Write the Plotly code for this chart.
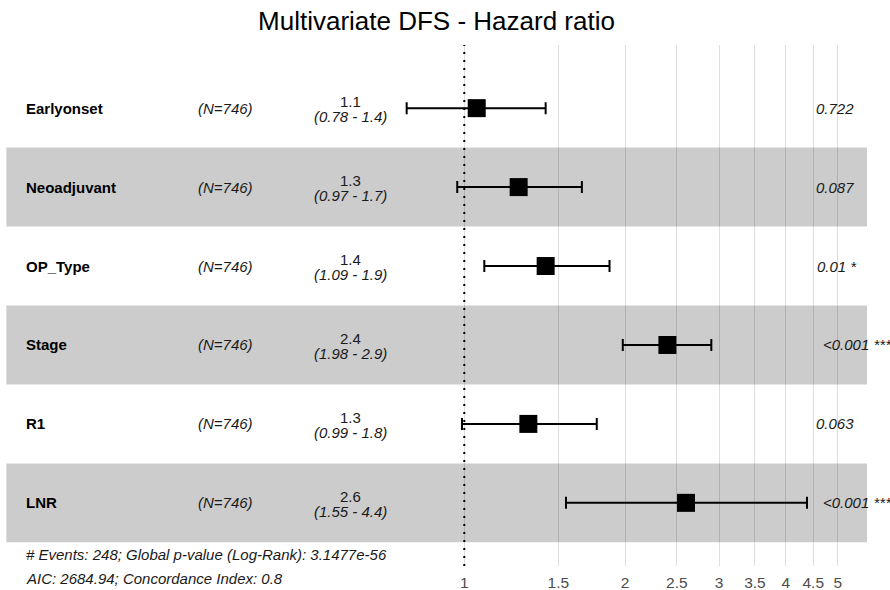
import math
import plotly.graph_objects as go

# ---- data ----
variables = ["Earlyonset", "Neoadjuvant", "OP_Type", "Stage", "R1", "LNR"]
n_labels = ["(N=746)"] * 6
hr = [1.055, 1.264, 1.42, 2.40, 1.318, 2.60]
ci_low = [0.78, 0.97, 1.09, 1.98, 0.99, 1.55]
ci_high = [1.42, 1.66, 1.87, 2.90, 1.77, 4.38]
hr_text = ["1.1", "1.3", "1.4", "2.4", "1.3", "2.6"]
ci_text = ["(0.78 - 1.4)", "(0.97 - 1.7)", "(1.09 - 1.9)", "(1.98 - 2.9)", "(0.99 - 1.8)", "(1.55 - 4.4)"]
p_text = ["0.722", "0.087", "0.01 *", "<0.001 ***", "0.063", "<0.001 ***"]
tick_vals = [1, 1.5, 2, 2.5, 3, 3.5, 4, 4.5, 5]
tick_text = ["1", "1.5", "2", "2.5", "3", "3.5", "4", "4.5", "5"]
footnote = ["# Events: 248; Global p-value (Log-Rank): 3.1477e-56",
            "AIC: 2684.94; Concordance Index: 0.8"]
title = "Multivariate DFS - Hazard ratio"

FONT = "Liberation Sans, Arial, sans-serif"

# positions (row index: first variable on top)
nrow = len(variables)
pos = [nrow - i for i in range(nrow)]

# ggforest-like layout in log space
rb = (math.log(min(ci_low)), math.log(max(ci_high)))
rp = (rb[0] - (rb[1] - rb[0]), rb[1] + 0.15 * (rb[1] - rb[0]))
width = rp[1] - rp[0]
x_var = math.exp(rp[0] + 0.02 * width)
x_n = math.exp(rp[0] + 0.22 * width)
x_ci = math.exp(rp[0] + 0.40 * width)
x_p = math.exp(rb[1])

ln_left, ln_right = -2.0013, 1.8349
xrange = [ln_left / math.log(10), ln_right / math.log(10)]

fig = go.Figure()

fig.add_trace(go.Scatter(
    x=hr, y=pos, mode="markers",
    marker=dict(symbol="square", size=18, color="black"),
    error_x=dict(type="data", symmetric=False,
                 array=[h - m for h, m in zip(ci_high, hr)],
                 arrayminus=[m - l for m, l in zip(hr, ci_low)],
                 color="black", thickness=2, width=6),
    hoverinfo="skip", showlegend=False,
))

shapes = []
for i, p in enumerate(pos):
    if i % 2 == 1:
        shapes.append(dict(type="rect", xref="x", yref="y",
                           x0=math.exp(rp[0]), x1=math.exp(rp[1]),
                           y0=p - 0.5, y1=p + 0.5,
                           fillcolor="rgba(0,0,0,0.2)", line=dict(width=0),
                           layer="between"))
shapes.append(dict(type="line", xref="x", yref="paper", x0=1, x1=1, y0=0, y1=1,
                   line=dict(color="black", width=2, dash="2px,6px"), layer="above"))

ann = []
for i, p in enumerate(pos):
    ann.append(dict(x=math.log10(x_var), y=p, text="<b>%s</b>" % variables[i], showarrow=False,
                    xanchor="left", yanchor="middle", font=dict(size=15, color="black", family=FONT)))
    ann.append(dict(x=math.log10(x_n), y=p, text="<i>%s</i>" % n_labels[i], showarrow=False,
                    xanchor="left", yanchor="middle", font=dict(size=15, color="#1a1a1a", family=FONT)))
    ann.append(dict(x=math.log10(x_ci), y=p, text=hr_text[i], showarrow=False,
                    xanchor="center", yanchor="middle", yshift=6.5,
                    font=dict(size=15, color="#1a1a1a", family=FONT)))
    ann.append(dict(x=math.log10(x_ci), y=p, text="<i>%s</i>" % ci_text[i], showarrow=False,
                    xanchor="center", yanchor="middle", yshift=-8.5,
                    font=dict(size=15, color="#1a1a1a", family=FONT)))
    ann.append(dict(x=math.log10(x_p), y=p, text="<i>%s</i>" % p_text[i], showarrow=False,
                    xanchor="left", yanchor="middle", xshift=0.2 * 7 * len(p_text[i]),
                    font=dict(size=15, color="#1a1a1a", family=FONT)))
for j, line in enumerate(footnote):
    ann.append(dict(x=math.log10(x_var), y=0.5, text="<i>%s</i>" % line, showarrow=False,
                    xanchor="left", yanchor="middle", yshift=-12.5 - 23.5 * j,
                    font=dict(size=15, color="#1a1a1a", family=FONT)))

fig.update_layout(
    width=890, height=590,
    margin=dict(l=0, r=0, t=45, b=24),
    paper_bgcolor="white", plot_bgcolor="white",
    title=dict(text=title, x=436.5 / 890, xanchor="center", y=1 - 21 / 590, yanchor="middle",
               font=dict(size=26, color="black", family=FONT)),
    xaxis=dict(type="log", range=xrange, tickvals=tick_vals, ticktext=tick_text,
               showgrid=True, gridcolor="#dedede", gridwidth=1.3, zeroline=False,
               showline=False, ticks="", ticklabelstandoff=5,
               tickfont=dict(size=15.5, color="#4d4d4d", family=FONT)),
    yaxis=dict(range=[0.2, 6.8], showgrid=False, zeroline=False, showticklabels=False,
               showline=False, ticks=""),
    shapes=shapes, annotations=ann,
)

fig.write_html("out.html")
